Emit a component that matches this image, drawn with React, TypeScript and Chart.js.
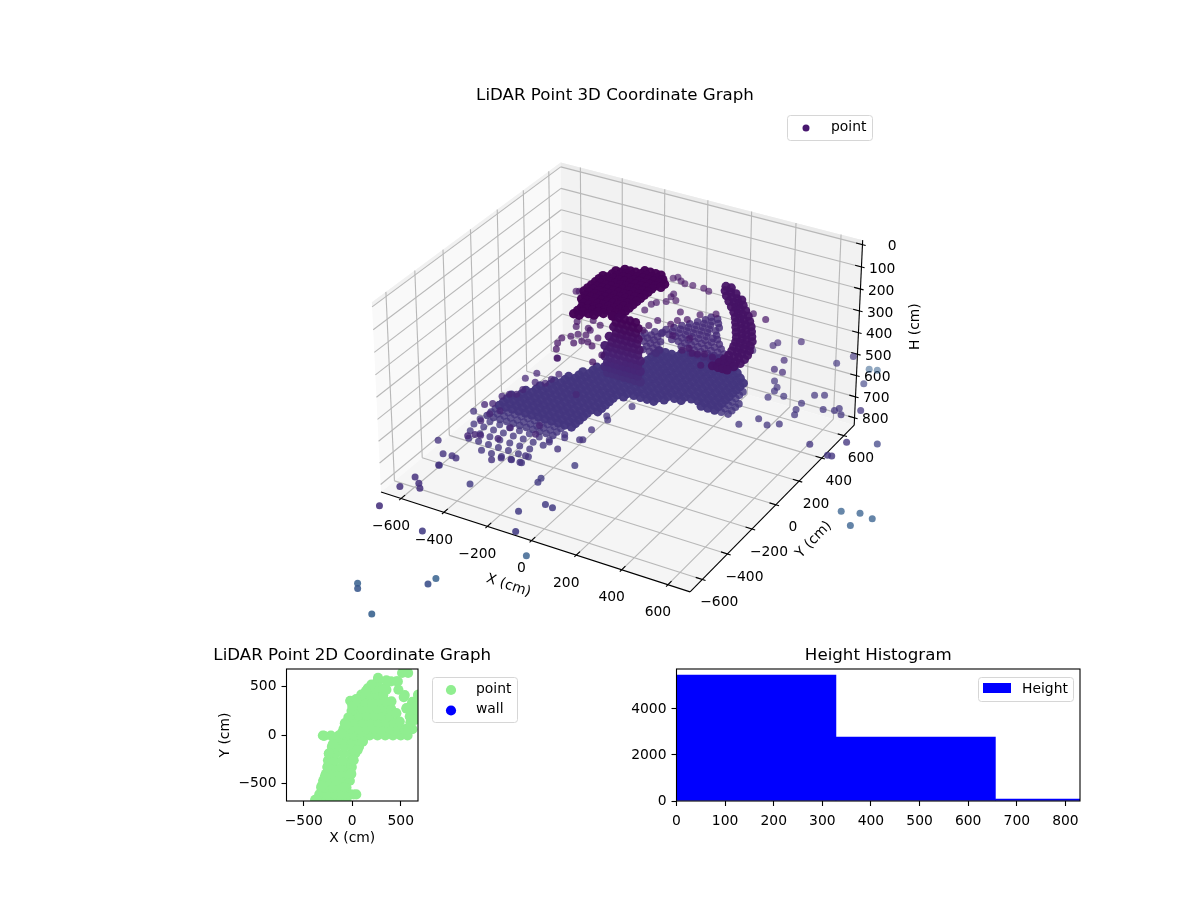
import { useEffect, useRef } from "react"
import { Chart, registerables } from "chart.js"

Chart.register(...registerables)
Chart.defaults.font.family = "'DejaVu Sans'"
Chart.defaults.color = "#000"

// 3D cloud. Rows are [Y, X, X, ...] at one height
const floorH = 520
const floorRows = [
  [-660, -240, -195, -150, -105, -60],
  [-610, -330, -285, -240, -195, -150, -105, -60],
  [-560, -355, -310, -265, -220, -175, -130, -85],
  [-510, -370, -325, -280, -235, -190, -145, -100, -55],
  [-465, -370, -325, -280, -235, -190, -145, -100, -55],
  [-430, -360, -330, -300, -270, -240, -210, -180, -150, -120, -90, -60],
  [-400, -360, -330, -300, -270, -240, -210, -180, -150, -120, -90, -60],
  [-370, -360, -330, -300, -270, -240, -210, -180, -150, -120, -90, -60],
  [-340, -360, -330, -300, -270, -240, -210, -180, -150, -120, -90, -60, -30],
  [-310, -360, -330, -300, -270, -240, -210, -180, -150, -120, -90, -60, -30],
  [-280, -360, -330, -300, -270, -240, -210, -180, -150, -120, -90, -60, -30],
  [-250, -360, -330, -300, -270, -240, -210, -180, -150, -120, -90, -60, -30],
  [-220, -330, -300, -270, -240, -210, -180, -150, -120, -90, -60, -30],
  [-190, -330, -300, -270, -240, -210, -180, -150, -120, -90, -60, -30, 0],
  [-160, -300, -270, -240, -210, -180, -150, -120, -90, -60, -30, 0],
  [-130, -300, -270, -240, -210, -180, -150, -120, -90, -60, -30, 0],
  [-100, -270, -240, -210, -180, -150, -120, -90, -60, -30, 0],
  [-70, -270, -240, -210, -180, -150, -120, -90, -60, -30, 0],
  [-40, -240, -210, -180, -150, -120, -90, -60, -30, 0, 30],
  [-10, -240, -210, -180, -150, -120, -90, -60, -30, 0, 30, 60, 90, 120, 150],
  [20, -210, -180, -150, -120, -90, -60, -30, 0, 30, 60, 90, 120, 150, 180],
  [50, -210, -180, -150, -120, -90, -60, -30, 0, 30, 60, 90, 120, 150, 180, 210, 240, 330, 360, 390, 420, 450],
  [80, -180, -150, -120, -90, -60, -30, 0, 30, 60, 90, 120, 150, 180, 210, 240, 270, 300, 330, 360, 390, 420, 450],
  [110, -180, -150, -120, -90, -60, -30, 0, 30, 60, 90, 120, 150, 180, 210, 240, 270, 300, 330, 360, 390, 420, 450],
  [140, -150, -120, -90, -60, -30, 0, 30, 60, 90, 120, 150, 180, 210, 240, 270, 300, 330, 360, 390, 420, 450],
  [170, -150, -120, -90, -60, -30, 0, 30, 60, 90, 120, 150, 180, 210, 240, 270, 300, 330, 360, 390, 420],
  [200, -90, -60, -30, 0, 30, 60, 90, 120, 150, 180, 210, 240, 270, 300, 330, 360, 390, 420],
  [230, -30, 0, 30, 60, 90, 120, 150, 180, 210, 240, 270, 300, 330, 360, 390, 420],
  [260, -30, 0, 30, 60, 90, 120, 150, 180, 210, 240, 270, 300, 330, 360, 390],
  [290, -30, 0, 30, 60, 90, 120, 150, 180, 210, 240, 270, 300, 330, 360, 390],
  [320, -30, 0, 30, 60, 90, 120, 150, 180, 210, 240, 270, 300, 330, 360],
  [350, -30, 0, 30, 60, 90, 120, 150, 180, 210, 240, 270, 300, 330],
  [380, 60, 90, 120, 150, 180, 210, 240, 270, 300],
  [410, 180, 210, 240, 270],
]

const capH = 200
const capRows = [
  [400, -125, -100, -75, -50],
  [370, -200, -175, -150, -125, -100, -75, -50, -25],
  [340, -225, -200, -175, -150, -125, -100, -75, -50, -25, 0],
  [310, -225, -200, -175, -150, -125, -100, -75, -50, -25, 0],
  [280, -250, -225, -200, -175, -150, -125, -100, -75, -50, -25],
  [250, -250, -225, -200, -175, -150, -125, -100, -75, -50, -25],
  [220, -250, -225, -200, -175, -150, -125, -100, -75, -50, -25],
  [190, -250, -225, -200, -175, -150, -125, -100, -75, -50, -25],
  [160, -250, -225, -200, -175, -150, -125, -100, -75, -50, -25],
  [130, -250, -225, -200, -175, -150, -125, -100, -75, -50, -25],
  [100, -225, -200, -175, -150, -125, -100, -75, -50, -25],
  [70, -225, -200, -175, -150, -125, -100, -75, -50, -25],
  [40, -200, -175, -150, -125, -100, -75, -50, -25],
  [10, -190, -165, -140, -115, -90, -50],
  [-20, -190, -165, -140, -115],
  [-50, -190, -165],
]

const fanH = 450
const fanRows = [
  [590, 80, 110],
  [560, 70, 100, 130],
  [530, 50, 80, 110, 150],
  [500, 30, 60, 90, 120, 150],
  [470, 10, 40, 70, 100, 130, 170],
  [440, -10, 20, 50, 80, 110, 140, 170, 190],
  [410, -30, 0, 30, 60, 90, 120, 150, 180, 215],
  [380, -30, 0, 30, 60, 90, 120, 150, 180, 210, 240],
  [370, -60, -30],
  [350, 30, 60, 90, 120, 150, 180, 210, 240, 270],
  [340, -90, -60, -30],
  [320, 90, 120, 150, 180, 210, 240, 270, 300],
  [310, -90, -60, -30, 0],
  [290, 150, 180, 210, 240, 270, 300, 330],
  [280, -60, -30, 0],
  [250, -30, 0, 30],
  [220, -30, 0, 30],
]

const hookH = 300
const hookRows = [
  [610, 135, 160],
  [575, 150, 175, 200],
  [540, 175, 200, 225, 245],
  [505, 205, 230, 250, 270],
  [470, 235, 255, 275, 300],
  [435, 265, 285, 305, 330],
  [400, 290, 310, 330, 355],
  [365, 310, 335, 355, 380],
  [330, 330, 355, 375, 400],
  [295, 350, 375, 395, 420],
  [260, 370, 395, 415, 440],
  [225, 385, 405, 430, 450],
  [190, 395, 420, 440, 465],
  [155, 405, 430, 450, 475],
  [120, 410, 435, 455, 480],
  [85, 410, 435, 460, 480],
  [50, 405, 430, 450, 470],
  [15, 395, 420, 440, 460],
]

// column is the upright part, rows are [H, X, X, ...] at one Y
const columnY = 20
const columnRows = [
  [206, -50, -25, 0, 25, 50],
  [230, -38, -13, 12, 37, 62],
  [254, -50, -25, 0, 25, 50],
  [278, -38, -13, 12, 37, 62],
  [302, -70, -45, -20, 5, 30, 55],
  [326, -58, -33, -8, 17, 42, 67],
  [350, -90, -65, -40, -15, 10, 35, 60],
  [374, -78, -53, -28, -3, 22, 47, 72],
  [398, -90, -65, -40, -15, 10, 35, 60],
  [422, -78, -53, -28, -3, 22, 47, 72],
  [446, -90, -65, -40, -15, 10, 35, 60],
  [470, -78, -53, -28, -3, 22, 47, 72],
]

// stray returns, [X, Y] at one height
const straysH300 = [
  [-84, 563], [-71, 580], [-45, 559], [-20, 546], [15, 549], [65, 550], [94, 539], [-17, 447], [-15, 422], [17, 404],
  [-13, 378], [-43, 351], [-53, 327], [-52, 272], [79, 330], [339, 462], [403, 445], [35, 223], [103, 262], [133, 289],
  [158, 349], [210, 387], [95, 222], [24, 171], [24, 125], [-371, 271], [-360, 277], [-332, 330], [-238, 56], [-187, 95],
  [-172, 31], [-143, 75], [-157, 21], [-221, 20], [-222, -89], [-216, -131], [-196, -174], [-157, -233], [-199, -58], [-183, -30],
  [-152, -21], [-161, -100], [-142, -70], [-117, -65], [-99, -18], [-87, -84], [-18, -126], [-21, -191],
]
const straysH340 = [
  [111, 210], [181, 223], [201, 125], [217, 152], [247, 124], [268, 128], [292, 142], [321, 58], [331, 136], [369, 85],
]
const straysH420 = [
  [-253, -733], [-234, -712], [-322, -504], [-299, -482], [-268, -553], [-269, -615], [-245, -515], [-297, -417], [-280, -390], [-256, -376],
  [-254, -333], [-291, -254], [-272, -199], [-241, -262], [-203, -249], [-198, -210], [-193, -162], [-263, -56], [-54, -263], [-56, -533],
  [-36, -594], [-144, -602], [-143, -692], [-213, -705],
]
const straysH450 = [
  [355, 433], [407, 509], [413, 539], [491, 594], [500, 426], [499, 344], [538, 338],
]
const straysH480 = [
  [-318, -1000], [-282, -1029], [-259, -1057], [-331, -1083], [-322, -1232],
]
const straysH500 = [
  [-406, -708], [-336, -781], [-298, -777], [-277, -782], [-306, -858], [-405, -456], [-153, -725], [-128, -697], [-91, -685], [-50, -687],
  [-56, -637], [24, -533], [-30, -505], [5, -449], [-7, -429], [62, -433], [73, -427], [64, -346], [63, -228], [82, -253], [113, -117],
]
const straysH520 = [
  [640, 619], [674, 702], [489, 368], [520, 330], [525, 298], [525, 243], [575, 281], [677, 349], [711, 369], [661, 267],
  [664, 214], [677, 176], [756, 267], [798, 282], [807, 306], [834, 267], [887, 333], [522, 4], [570, 78], [620, 53],
  [658, 83], [828, 9], [923, -29], [940, -27], [944, 93],
]
const straysH560 = [
  [-161, -1194], [-357, -778], [-183, -833], [28, -663], [33, -694], [92, -520], [138, -812], [173, -819], [76, -903], [139, -1025],
]
const straysH620 = [[735, 682], [985, 289]]
const straysH700 = [[-69, -1305]]
const straysH760 = [[-328, -1387]]
const straysH820 = [
  [50, -813], [-400, -1287], [-164, -1113], [-241, -1427], [559, 1114], [592, 1124], [947, 65], [1017, 88], [1075, 77], [1023, -9],
]
const strayGroups: [number, number[][]][] = [
  [300, straysH300], [340, straysH340], [420, straysH420], [450, straysH450], [480, straysH480], [500, straysH500],
  [520, straysH520], [560, straysH560], [620, straysH620], [700, straysH700], [760, straysH760], [820, straysH820],
]

const axisTicks = [-600, -400, -200, 0, 200, 400, 600]
const heightTicks = [0, 100, 200, 300, 400, 500, 600, 700, 800]

// top view, rows are [Y, X, X, ...]
const topRows = [
  [-666, -383, -300, -220, -140, -60],
  [-610, -340, -260, -180, -100, -20, 41],
  [-540, -320, -280, -200, -120, -60],
  [-470, -300, -240, -160, -80, -25],
  [-400, -272, -210, -130, -50, -10],
  [-330, -255, -190, -110, -30, -5],
  [-260, -250, -180, -100, -20, 10],
  [-190, -241, -170, -90, -10, 30],
  [-120, -210, -160, -80, 0, 70],
  [-60, -170, -90, -10, 70, 110],
  [-5, -303, -220, -140, -60, 20, 100, 180, 260, 340, 420, 500, 570],
  [60, -90, -10, 70, 150, 230, 310, 390, 470, 550, 620],
  [130, -50, 30, 110, 190, 270, 350, 430, 600],
  [200, -10, 70, 150, 230, 310, 390, 600, 650],
  [270, 20, 100, 180, 260, 340, 400, 560, 640],
  [340, 50, 130, 210, 290, 350, 620, 680],
  [410, 100, 180, 260, 320, 541, 680],
  [480, 160, 230, 310],
  [550, 260, 400, 470],
]
const topEdgeX = [
  -369, -317, -283, -255, -241, -200, -290, -110, -76, -7, -21, 93, 197, 266,
  14, -83, -14, 14, 55, 107, 542, 576, 352, 404, 455, 490, 352, 455, 476, 531,
  514, 576, 610, 680, 662, 559, 593, 645, 662,
  -40, -60, 0, 40, 140,
]
const topEdgeY = [
  -666, -524, -431, -328, -190, -93, -10, 17, 121, 248, 352, 414, 518, 586,
  -611, -535, -397, -259, -155, -69, 52, 69, 466, 345, 224, 138, 562, 552, 465, 390,
  638, 638, 310, 414, 328, 276, 190, 155, 293,
  180, 100, 300, 370, 450,
]
const topTicks = [-500, 0, 500]

const histEdges = [0, 328, 656, 984]
const histCounts = [5478, 2783, 87]
const histXTicks = [0, 100, 200, 300, 400, 500, 600, 700, 800]
const histYTicks = [0, 2000, 4000]

// axis box of the 3D panel in data units, H runs downwards
const xyLimit = 695
const hBottom = 835
const hTop = -20

function project(x: number, y: number, h: number) {
  const rx = ((x + xyLimit) / (2 * xyLimit) - 0.5) * 1.19
  const ry = ((y + xyLimit) / (2 * xyLimit) - 0.5) * 1.19
  const rz = ((hBottom - h) / (hBottom - hTop) - 0.5) * 0.73
  const xv = 0.8660254 * rx + 0.5 * ry
  const yv = -0.25 * rx + 0.4330127 * ry + 0.8660254 * rz
  const depth = 0.4330127 * rx - 0.75 * ry + 0.5 * rz
  return { x: xv / (10 - depth), y: yv / (10 - depth), depth }
}

const viridisStops = [[68, 1, 84], [72, 36, 117], [65, 68, 135], [53, 95, 141], [42, 120, 142]]

function pointColor(h: number, alpha: number) {
  const t = Math.max(0, Math.min(0.39, (h - 190) / 2100)) * 10
  const i = Math.floor(t)
  const f = t - i
  const rgb = viridisStops[i].map((c, k) => Math.round(c + (viridisStops[i + 1][k] - c) * f))
  return `rgba(${rgb[0]},${rgb[1]},${rgb[2]},${alpha})`
}

// the solid parts stand in for thousands of overlapping returns, so they get a bigger, opaque dot
function cloudPoints() {
  const raw: { x: number, y: number, h: number, r: number, a: number | null }[] = []
  const addRows = (rows: number[][], h: number, style: (x: number, y: number) => [number, number | null]) =>
    rows.forEach(([y, ...xs]) => xs.forEach(x => {
      const [r, a] = style(x, y)
      raw.push({ x, y, h, r, a })
    }))
  addRows(floorRows, floorH, (x, y) => {
    if (y < -440) return [3.5, null]
    if (y < -340 || x >= 400) return [3.8, 0.82]
    return [4.6, 0.97]
  })
  addRows(fanRows, fanH, () => [3.8, 0.8])
  addRows(capRows, capH, () => [4.7, 0.98])
  addRows(hookRows, hookH, () => [4.5, 0.95])
  columnRows.forEach(([h, ...xs]) => xs.forEach(x => raw.push({ x, y: columnY, h, r: 4.5, a: 0.96 })))
  strayGroups.forEach(([h, pts]) => pts.forEach(([x, y]) => raw.push({ x, y, h, r: 3.5, a: null })))
  return raw
    .map(p => {
      const q = project(p.x, p.y, p.h)
      const alpha = p.a ?? Math.max(0.55, Math.min(0.9, 0.72 + 0.25 * q.depth))
      return { ...q, r: p.r, color: pointColor(p.h, alpha) }
    })
    .sort((a, b) => a.depth - b.depth)
}

const tickFont = "13.89px 'DejaVu Sans'"
const minus = (v: number) => (v < 0 ? "\u2212" + -v : "" + v)

const box3dPlugin = {
  id: "box3d",
  beforeDatasetsDraw(chart: Chart) {
    const ctx = chart.ctx
    const px = (x: number, y: number, h: number) => {
      const p = project(x, y, h)
      return [chart.scales.x.getPixelForValue(p.x), chart.scales.y.getPixelForValue(p.y)]
    }
    const L = -xyLimit
    const R = xyLimit
    const poly = (pts: number[][], fill: string) => {
      ctx.beginPath()
      pts.forEach((p, i) => (i ? ctx.lineTo(p[0], p[1]) : ctx.moveTo(p[0], p[1])))
      ctx.closePath()
      ctx.fillStyle = fill
      ctx.fill()
    }
    const line = (a: number[], b: number[]) => {
      ctx.beginPath()
      ctx.moveTo(a[0], a[1])
      ctx.lineTo(b[0], b[1])
      ctx.stroke()
    }
    ctx.save()
    poly([px(L, L, hBottom), px(L, R, hBottom), px(L, R, hTop), px(L, L, hTop)], "#f9f9f9")
    poly([px(L, R, hBottom), px(R, R, hBottom), px(R, R, hTop), px(L, R, hTop)], "#f2f2f2")
    poly([px(L, L, hBottom), px(R, L, hBottom), px(R, R, hBottom), px(L, R, hBottom)], "#f5f5f5")
    poly([px(L, L, 0), px(L, R, 0), px(L, R, hTop), px(L, L, hTop)], "#f1f1f1")
    poly([px(L, R, 0), px(R, R, 0), px(R, R, hTop), px(L, R, hTop)], "#ebebeb")

    ctx.strokeStyle = "#b8b8b8"
    ctx.lineWidth = 1.1
    axisTicks.forEach(t => {
      line(px(t, L, hBottom), px(t, R, hBottom))
      line(px(t, R, hBottom), px(t, R, hTop))
      line(px(L, t, hBottom), px(R, t, hBottom))
      line(px(L, t, hBottom), px(L, t, hTop))
    })
    heightTicks.forEach(t => {
      line(px(L, L, t), px(L, R, t))
      line(px(L, R, t), px(R, R, t))
    })

    ctx.strokeStyle = "#000"
    line(px(L, L, hBottom), px(R, L, hBottom))
    line(px(R, L, hBottom), px(R, R, hBottom))
    line(px(R, R, hBottom), px(R, R, hTop))
    axisTicks.forEach(t => {
      line(px(t, L - 14, hBottom), px(t, L + 28, hBottom))
      line(px(R + 14, t, hBottom), px(R - 28, t, hBottom))
    })
    heightTicks.forEach(t => line(px(R + 14, R, t), px(R - 28, R, t)))

    ctx.fillStyle = "#000"
    ctx.font = tickFont
    ctx.textBaseline = "middle"
    ctx.textAlign = "center"
    axisTicks.forEach(t => {
      const a = px(t, L, hBottom)
      ctx.fillText(minus(t), a[0] - 10, a[1] + 28)
      const b = px(R, t, hBottom)
      ctx.fillText(minus(t), b[0] + 17, b[1] + 23)
    })
    ctx.textAlign = "right"
    heightTicks.forEach(t => {
      const c = px(R, R, t)
      ctx.fillText("" + t, c[0] + 34, c[1] + 2)
    })
    ctx.textAlign = "center"
    const label = (text: string, at: number[], dx: number, dy: number, angle: number) => {
      ctx.save()
      ctx.translate(at[0] + dx, at[1] + dy)
      ctx.rotate((angle * Math.PI) / 180)
      ctx.fillText(text, 0, 0)
      ctx.restore()
    }
    label("X (cm)", px(0, L, hBottom), -23, 45, 18.4)
    label("Y (cm)", px(R, 0, hBottom), 38, 35, -46)
    label("H (cm)", px(R, R, 400), 57, -6, -90)
    ctx.restore()
  },
}

type LegendEntry = { label: string, color: string, patch?: boolean }

function legendPlugin(x: number, y: number, w: number, h: number, entries: LegendEntry[], markerR: number) {
  return {
    id: "cornerLegend",
    afterDatasetsDraw(chart: Chart) {
      const ctx = chart.ctx
      ctx.save()
      ctx.beginPath()
      ctx.roundRect(x + 0.5, y + 0.5, w, h, 3)
      ctx.fillStyle = "rgba(255,255,255,0.8)"
      ctx.fill()
      ctx.strokeStyle = "#d6d6d6"
      ctx.lineWidth = 1
      ctx.stroke()
      ctx.font = tickFont
      ctx.textBaseline = "middle"
      ctx.textAlign = "left"
      entries.forEach((e, i) => {
        const cy = y + 12 + i * 20.5
        ctx.fillStyle = e.color
        if (e.patch) {
          ctx.fillRect(x + 5, cy - 6, 28, 10)
          ctx.fillStyle = "#000"
          ctx.fillText(e.label, x + 44, cy)
        } else {
          ctx.beginPath()
          ctx.arc(x + 19, cy + 1, markerR, 0, Math.PI * 2)
          ctx.fill()
          ctx.fillStyle = "#000"
          ctx.fillText(e.label, x + 44, cy)
        }
      })
      ctx.restore()
    },
  }
}

// matplotlib centres titles on the axes, Chart.js on the canvas, so it is drawn here
function titlePlugin(text: string, y: number) {
  return {
    id: "axesTitle",
    afterDraw(chart: Chart) {
      const { left, right } = chart.chartArea
      const ctx = chart.ctx
      ctx.save()
      ctx.font = "16.67px 'DejaVu Sans'"
      ctx.fillStyle = "#000"
      ctx.textAlign = "center"
      ctx.textBaseline = "middle"
      ctx.fillText(text, (left + right) / 2, y)
      ctx.restore()
    },
  }
}

const framePlugin = {
  id: "axesFrame",
  afterDatasetsDraw(chart: Chart) {
    const { left, top, width, height } = chart.chartArea
    const ctx = chart.ctx
    ctx.save()
    ctx.strokeStyle = "#000"
    ctx.lineWidth = 1.1
    ctx.strokeRect(left, top, width, height)
    ctx.restore()
  },
}

const fixedWidth = (w: number) => (scale: any) => { scale.width = w }
const fixedHeight = (h: number) => (scale: any) => { scale.height = h }
const tickValues = (values: number[]) => (scale: any) => { scale.ticks = values.map(value => ({ value })) }

const axisBase = {
  grid: { drawOnChartArea: false, drawTicks: true, tickLength: 5, tickColor: "#000", tickWidth: 1.1, offset: false },
  border: { display: false },
}
const tickOpts = (padding: number) => ({
  font: { size: 13.89 },
  color: "#000",
  padding,
  maxRotation: 0,
  autoSkip: false,
  callback: (v: any) => minus(Number(v)),
})

const App = () => {
  const cloudRef = useRef<HTMLCanvasElement>(null)
  const topRef = useRef<HTMLCanvasElement>(null)
  const histRef = useRef<HTMLCanvasElement>(null)

  useEffect(() => {
    if (!cloudRef.current || !topRef.current || !histRef.current) return

    const cloud = cloudPoints()
    const cloudChart = new Chart(cloudRef.current, {
      type: "scatter",
      data: {
        datasets: [{
          label: "point",
          data: cloud.map(p => ({ x: p.x, y: p.y })),
          pointRadius: cloud.map(p => p.r),
          pointBorderWidth: 0,
          pointBackgroundColor: cloud.map(p => p.color),
          clip: false,
        }] as any,
      },
      options: {
        animation: false,
        responsive: false,
        layout: { padding: { left: 310, right: 310, top: 120, bottom: 20 } },
        scales: {
          x: { type: "linear", display: false, min: -0.09517, max: 0.09045 },
          y: { type: "linear", display: false, min: -0.08572, max: 0.08302 },
        },
        plugins: { legend: { display: false }, tooltip: { enabled: false } },
      },
      plugins: [
        box3dPlugin,
        legendPlugin(757, 115, 85, 25, [{ label: "point", color: "#48176f" }], 3.5),
        titlePlugin("LiDAR Point 3D Coordinate Graph", 95.5),
      ],
    })

    const topPoints = [
      ...topRows.flatMap(([y, ...xs]) => xs.map(x => ({ x, y }))),
      ...topEdgeX.map((x, i) => ({ x, y: topEdgeY[i] })),
    ]
    const topChart = new Chart(topRef.current, {
      type: "scatter",
      data: {
        datasets: [
          { label: "point", data: topPoints, pointRadius: 5.1, pointBorderWidth: 0, pointBackgroundColor: "#90ee90" },
          { label: "wall", data: [], pointRadius: 5.1, pointBorderWidth: 0, pointBackgroundColor: "#0000ff" },
        ],
      },
      options: {
        animation: false,
        responsive: false,
        layout: { padding: { top: 29, right: 107 } },
        scales: {
          x: {
            ...axisBase, type: "linear", min: -678, max: 678, afterFit: fixedHeight(49), afterBuildTicks: tickValues(topTicks),
            ticks: tickOpts(7),
            title: { display: true, text: "X (cm)", font: { size: 13.89 }, color: "#000", padding: { top: 0, bottom: 3 } },
          },
          y: {
            ...axisBase, type: "linear", min: -678, max: 678, afterFit: fixedWidth(106.5), afterBuildTicks: tickValues(topTicks),
            ticks: tickOpts(5),
            title: { display: true, text: "Y (cm)", font: { size: 13.89 }, color: "#000", padding: { top: 37, bottom: 0 } },
          },
        },
        plugins: { legend: { display: false }, tooltip: { enabled: false } },
      },
      plugins: [framePlugin, legendPlugin(252, 37, 85, 45, [
        { label: "point", color: "#90ee90" },
        { label: "wall", color: "#0000ff" },
      ], 5.1), titlePlugin("LiDAR Point 2D Coordinate Graph", 16)],
    })

    const histChart = new Chart(histRef.current, {
      type: "bar",
      data: {
        datasets: [{
          label: "Height",
          data: histCounts.map((c, i) => ({ x: (histEdges[i] + histEdges[i + 1]) / 2, y: c })),
          backgroundColor: "#0000ff",
          barThickness: 159.4,
        }] as any,
      },
      options: {
        animation: false,
        responsive: false,
        layout: { padding: { top: 29, right: 56 } },
        scales: {
          x: {
            ...axisBase, type: "linear", offset: false, min: 0, max: 830, afterFit: fixedHeight(49), afterBuildTicks: tickValues(histXTicks),
            ticks: tickOpts(7),
          },
          y: {
            ...axisBase, type: "linear", min: 0, max: 5739, afterFit: fixedWidth(56.5), afterBuildTicks: tickValues(histYTicks),
            ticks: tickOpts(5),
          },
        },
        plugins: { legend: { display: false }, tooltip: { enabled: false } },
      },
      plugins: [framePlugin, legendPlugin(358, 37, 95, 24, [{ label: "Height", color: "#0000ff", patch: true }], 0), titlePlugin("Height Histogram", 16)],
    })

    return () => {
      cloudChart.destroy()
      topChart.destroy()
      histChart.destroy()
    }
  }, [])

  return (
    <div style={{ position: "fixed", left: 0, top: 0, width: 1200, height: 900, background: "#fff", overflow: "hidden" }}>
      <canvas ref={cloudRef} width={1170} height={640} style={{ position: "absolute", left: 30, top: 0 }}></canvas>
      <canvas ref={topRef} width={345} height={210} style={{ position: "absolute", left: 180, top: 640 }}></canvas>
      <canvas ref={histRef} width={516} height={210} style={{ position: "absolute", left: 620, top: 640 }}></canvas>
    </div>
  )
}

export default App
